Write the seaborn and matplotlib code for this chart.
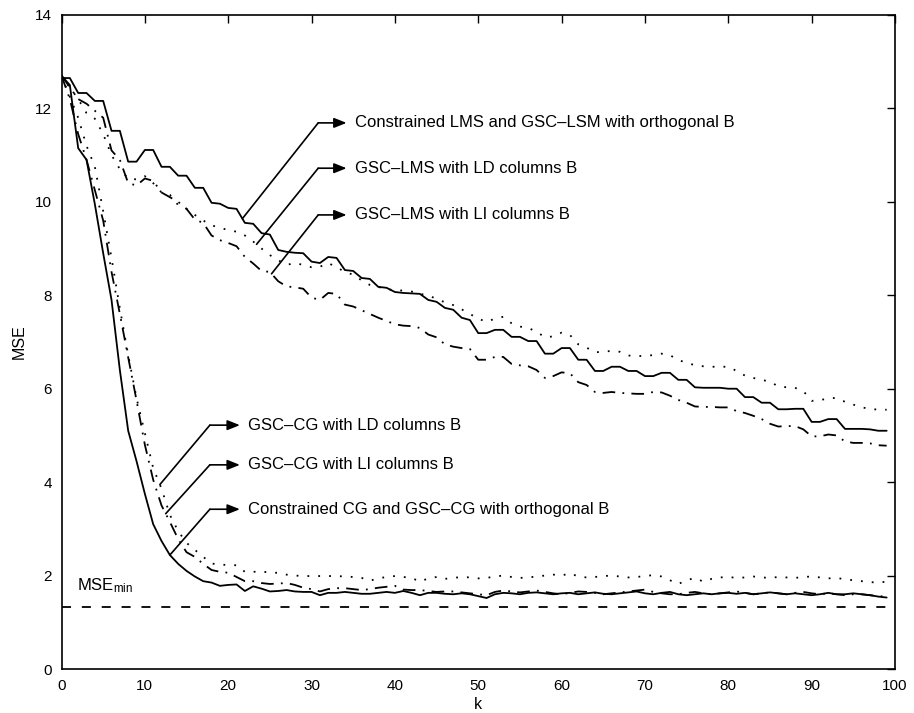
import numpy as np
import matplotlib
matplotlib.use("Agg")
import matplotlib.pyplot as plt
import seaborn as sns

# iteration index
k = np.arange(100)
mse_min = 1.33

# LMS family
lms_orth = [12.65, 12.65, 12.33, 12.33, 12.16, 12.16, 11.52, 11.52, 10.86, 10.86,
            11.11, 11.11, 10.75, 10.75, 10.56, 10.56, 10.30, 10.30, 9.98, 9.96,
            9.87, 9.85, 9.55, 9.53, 9.33, 9.30, 8.97, 8.93, 8.91, 8.90,
            8.72, 8.69, 8.82, 8.80, 8.54, 8.52, 8.37, 8.35, 8.18, 8.16,
            8.07, 8.05, 8.04, 8.03, 7.90, 7.86, 7.73, 7.69, 7.52, 7.47,
            7.19, 7.19, 7.26, 7.26, 7.11, 7.11, 7.02, 7.02, 6.75, 6.75,
            6.87, 6.87, 6.62, 6.62, 6.38, 6.38, 6.47, 6.47, 6.38, 6.38,
            6.27, 6.27, 6.34, 6.34, 6.19, 6.19, 6.03, 6.02, 6.02, 6.02,
            6.00, 6.00, 5.82, 5.82, 5.70, 5.70, 5.56, 5.56, 5.57, 5.57,
            5.29, 5.29, 5.35, 5.35, 5.14, 5.14, 5.14, 5.13, 5.10, 5.10]
lms_ld = [12.70, 12.45, 12.20, 11.90, 11.78, 11.45, 11.00, 10.70, 10.50, 10.48,
          10.55, 10.40, 10.20, 10.15, 9.93, 9.85, 9.72, 9.60, 9.50, 9.44,
          9.40, 9.36, 9.28, 9.15, 9.00, 8.86, 8.75, 8.65, 8.69, 8.65,
          8.60, 8.61, 8.69, 8.60, 8.50, 8.44, 8.32, 8.22, 8.18, 8.13,
          8.11, 8.10, 8.08, 8.03, 8.00, 7.92, 7.85, 7.79, 7.70, 7.60,
          7.50, 7.43, 7.50, 7.54, 7.40, 7.33, 7.30, 7.22, 7.10, 7.12,
          7.20, 7.15, 6.95, 6.88, 6.78, 6.79, 6.81, 6.79, 6.71, 6.70,
          6.70, 6.72, 6.75, 6.72, 6.61, 6.56, 6.50, 6.48, 6.47, 6.47,
          6.47, 6.38, 6.28, 6.23, 6.19, 6.15, 6.05, 6.03, 6.02, 5.95,
          5.74, 5.75, 5.80, 5.80, 5.72, 5.66, 5.60, 5.57, 5.55, 5.55]
lms_li = [12.70, 12.45, 12.20, 12.10, 11.95, 11.80, 11.10, 10.90, 10.40, 10.35,
          10.50, 10.45, 10.20, 10.10, 10.00, 9.85, 9.62, 9.55, 9.28, 9.18,
          9.12, 9.05, 8.82, 8.68, 8.52, 8.50, 8.30, 8.19, 8.17, 8.14,
          7.95, 7.90, 8.05, 8.03, 7.80, 7.76, 7.68, 7.60, 7.52, 7.45,
          7.38, 7.35, 7.34, 7.30, 7.16, 7.10, 6.95, 6.90, 6.87, 6.85,
          6.62, 6.62, 6.68, 6.68, 6.53, 6.50, 6.48, 6.40, 6.23, 6.27,
          6.35, 6.33, 6.14, 6.08, 5.93, 5.91, 5.93, 5.91, 5.90, 5.89,
          5.89, 5.93, 5.92, 5.85, 5.76, 5.70, 5.62, 5.61, 5.61, 5.60,
          5.60, 5.52, 5.48, 5.42, 5.35, 5.25, 5.19, 5.20, 5.20, 5.13,
          4.98, 4.98, 5.02, 5.00, 4.87, 4.84, 4.84, 4.83, 4.79, 4.78]

# CG family
cg_orth = [12.70, 12.50, 11.15, 10.90, 9.95, 8.90, 7.90, 6.40, 5.10, 4.45,
           3.75, 3.10, 2.74, 2.44, 2.25, 2.10, 1.98, 1.88, 1.85, 1.78,
           1.80, 1.81, 1.67, 1.77, 1.72, 1.66, 1.67, 1.69, 1.66, 1.65,
           1.65, 1.58, 1.63, 1.63, 1.65, 1.63, 1.61, 1.61, 1.63, 1.65,
           1.63, 1.67, 1.63, 1.58, 1.63, 1.63, 1.61, 1.60, 1.62, 1.60,
           1.56, 1.52, 1.60, 1.63, 1.62, 1.60, 1.63, 1.64, 1.62, 1.60,
           1.62, 1.63, 1.60, 1.62, 1.64, 1.61, 1.60, 1.62, 1.64, 1.66,
           1.62, 1.60, 1.63, 1.65, 1.60, 1.58, 1.60, 1.62, 1.60, 1.62,
           1.63, 1.61, 1.63, 1.60, 1.62, 1.64, 1.62, 1.60, 1.62, 1.60,
           1.58, 1.60, 1.63, 1.60, 1.60, 1.62, 1.60, 1.58, 1.55, 1.53]
cg_ld = [12.70, 12.25, 11.80, 11.20, 10.75, 9.80, 8.80, 7.72, 6.72, 5.80,
         5.05, 4.30, 3.86, 3.30, 2.95, 2.70, 2.55, 2.40, 2.26, 2.23,
         2.23, 2.22, 2.08, 2.08, 2.09, 2.06, 2.06, 2.02, 2.00, 1.99,
         1.99, 1.99, 1.99, 1.99, 1.98, 1.97, 1.95, 1.89, 1.94, 1.97,
         1.99, 1.97, 1.95, 1.87, 1.94, 1.97, 1.93, 1.95, 1.97, 1.96,
         1.94, 1.95, 1.98, 2.00, 1.97, 1.95, 1.96, 1.98, 2.00, 2.02,
         2.00, 2.05, 1.98, 1.96, 1.97, 1.99, 2.00, 1.98, 1.96, 1.97,
         1.99, 2.01, 1.98, 1.90, 1.82, 1.90, 1.95, 1.87, 1.93, 1.96,
         1.97, 1.95, 1.96, 1.98, 1.96, 1.95, 1.97, 1.96, 1.95, 1.97,
         1.98, 1.96, 1.94, 1.95, 1.92, 1.90, 1.88, 1.86, 1.85, 1.87]
cg_li = [12.70, 12.20, 11.45, 10.90, 10.25, 9.60, 8.50, 7.60, 6.67, 5.75,
         4.80, 4.05, 3.50, 3.15, 2.78, 2.50, 2.40, 2.25, 2.12, 2.08,
         2.06, 1.97, 1.88, 1.88, 1.84, 1.82, 1.83, 1.84, 1.80, 1.74,
         1.71, 1.66, 1.71, 1.73, 1.73, 1.71, 1.69, 1.71, 1.74, 1.76,
         1.78, 1.70, 1.69, 1.69, 1.67, 1.65, 1.66, 1.66, 1.64, 1.62,
         1.60, 1.58, 1.65, 1.68, 1.66, 1.64, 1.66, 1.68, 1.65, 1.62,
         1.60, 1.63, 1.66, 1.65, 1.63, 1.60, 1.62, 1.64, 1.66, 1.68,
         1.70, 1.65, 1.62, 1.60, 1.60, 1.63, 1.65, 1.62, 1.60, 1.62,
         1.64, 1.66, 1.63, 1.60, 1.62, 1.64, 1.62, 1.60, 1.63, 1.65,
         1.62, 1.60, 1.62, 1.60, 1.58, 1.60, 1.60, 1.58, 1.56, 1.55]

x_ticks = list(range(0, 101, 10))
y_ticks = list(range(0, 15, 2))

# line styles (MATLAB look)
SOLID = "-"
DOTTED = (0, (1, 5))
DASHDOT = (0, (7, 4, 1, 4))

sns.set_theme(style="white")
plt.rcParams['font.family'] = ['Liberation Sans', 'DejaVu Sans']
plt.rcParams['mathtext.fontset'] = 'custom'
plt.rcParams['mathtext.rm'] = 'Liberation Sans'
plt.rcParams['mathtext.it'] = 'Liberation Sans:italic'
# plain black text like the original
for key in ['text.color', 'axes.labelcolor', 'xtick.color', 'ytick.color']:
    plt.rcParams[key] = 'black'

fig = plt.figure(figsize=(9.14, 7.13), dpi=100)
ax = fig.add_axes([0.0673, 0.0617, 0.9119, 0.9173])

series = [
    (lms_orth, SOLID), (lms_ld, DOTTED), (lms_li, DASHDOT),
    (cg_orth, SOLID), (cg_ld, DOTTED), (cg_li, DASHDOT),
]
for vals, ls in series:
    sns.lineplot(x=k, y=vals, ax=ax, color="black", linewidth=1.3,
                 linestyle=ls, estimator=None, sort=False)

# MSE_min reference line
ax.hlines(mse_min, k[0], k[-1], colors="black", linewidth=1.3,
          linestyles=[(0, (5, 6))])
ax.text(1.9, 1.69, r"MSE$_{\mathrm{min}}$", fontsize=12, va="baseline")

# annotations: (label, curve, k on curve, corner k, label y, tip k, text k)
notes = [
    ("Constrained LMS and GSC\u2013LSM with orthogonal B", lms_orth, 21.7, 30.8, 11.69, 34.2, 35.2),
    ("GSC\u2013LMS with LD columns B", lms_ld, 23.4, 30.8, 10.72, 34.2, 35.2),
    ("GSC\u2013LMS with LI columns B", lms_li, 25.2, 30.8, 9.72, 34.2, 35.2),
    ("GSC\u2013CG with LD columns B", cg_ld, 11.8, 17.8, 5.22, 21.4, 22.4),
    ("GSC\u2013CG with LI columns B", cg_li, 12.5, 17.8, 4.37, 21.4, 22.4),
    ("Constrained CG and GSC\u2013CG with orthogonal B", cg_orth, 13.0, 17.8, 3.42, 21.4, 22.4),
]
for label, curve, k0, kc, yl, kt, kx in notes:
    y0 = np.interp(k0, k, curve)
    ax.plot([k0, kc], [y0, yl], color="black", linewidth=1.2)
    ax.annotate("", xy=(kt, yl), xytext=(kc, yl),
                arrowprops=dict(arrowstyle="-|>,head_length=0.75,head_width=0.3",
                                color="black", lw=1.2, shrinkA=0, shrinkB=0,
                                mutation_scale=10))
    ax.text(kx, yl, label, fontsize=12, va="center", ha="left")

ax.set_xlim(0, 100)
ax.set_ylim(0, 14)
ax.set_xticks(x_ticks)
ax.set_yticks(y_ticks)
ax.set_xlabel("k", fontsize=11.5, labelpad=3)
ax.set_ylabel("MSE", fontsize=11.5, labelpad=6)
ax.tick_params(direction="in", length=6, width=1, top=True, right=True,
               labelsize=11, colors="black", pad=7)
for sp in ax.spines.values():
    sp.set_visible(True)
    sp.set_color("black")
    sp.set_linewidth(1.2)

fig.savefig("out.png", dpi=100)
